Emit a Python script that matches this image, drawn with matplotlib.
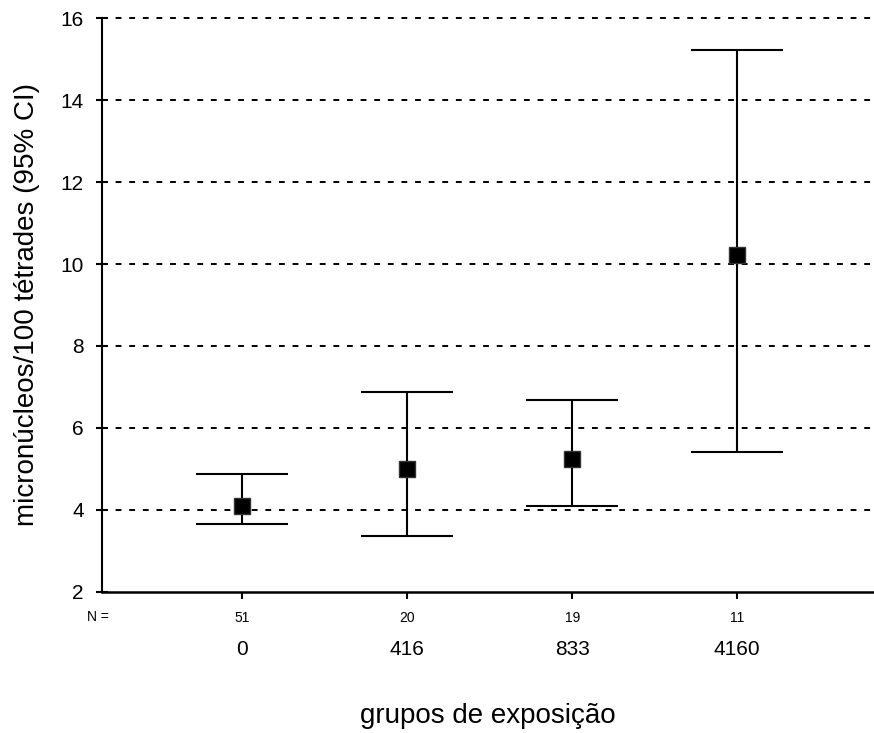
import matplotlib
matplotlib.use('Agg')
import matplotlib.pyplot as plt
import matplotlib.transforms as mtransforms
import numpy as np

plt.rcParams['font.family'] = ['Liberation Sans', 'DejaVu Sans']

# dados
grupos = ['0', '416', '833', '4160']
n_casos = ['51', '20', '19', '11']
media = [4.10, 5.00, 5.24, 10.22]
ic_inf = [3.66, 3.37, 4.10, 5.41]
ic_sup = [4.88, 6.88, 6.68, 15.22]

pos = np.arange(1, len(grupos) + 1)
media = np.array(media)
err = np.array([media - np.array(ic_inf), np.array(ic_sup) - media])

fig = plt.figure(figsize=(8.74, 7.33), dpi=100)
ax = fig.add_axes([0.1167, 0.1924, 0.8833, 0.783])

# linhas de grade tracejadas
ax.set_yticks(np.arange(2, 17, 2))
for y in np.arange(4, 17, 2):
    ax.axhline(y, linestyle=(0, (3, 4)), color='black', linewidth=1.4,
               clip_on=False, zorder=1)

ax.errorbar(pos, media, yerr=err, fmt='none', ecolor='black',
            elinewidth=1.5, capsize=46 * 72 / 100, capthick=1.5, zorder=3)
ax.plot(pos, media, linestyle='none', marker='s', markersize=11.5,
        color='black', markeredgecolor='#333333', zorder=4)

ax.set_xlim(0.15, 4.83)
ax.set_ylim(2, 16)

for lado in ['top', 'right']:
    ax.spines[lado].set_visible(False)
ax.spines['left'].set_linewidth(1.5)
ax.spines['bottom'].set_linewidth(1.8)

ax.tick_params(axis='y', direction='inout', length=8, width=1.5,
               labelsize=15, pad=9)
ax.set_xticks(pos)
ax.set_xticklabels(n_casos, fontsize=10)
ax.tick_params(axis='x', direction='out', length=5, width=1.5, pad=9)

trans = mtransforms.blended_transform_factory(ax.transData, ax.transAxes)
for x, g in zip(pos, grupos):
    ax.text(x, -0.1, g, transform=trans, ha='center', va='center',
            fontsize=15)
ax.text(0.009, -0.044, 'N =', transform=ax.transAxes, ha='right',
        va='center', fontsize=10)

fig.text(27 / 874, 1 - 305 / 733, 'micronúcleos/100 tétrades (95% CI)',
         rotation=90, ha='center', va='center', fontsize=20)
fig.text(0.5585, 1 - 723 / 733, 'grupos de exposição', ha='center',
         va='baseline', fontsize=20)

fig.savefig('out.png', dpi=100)
